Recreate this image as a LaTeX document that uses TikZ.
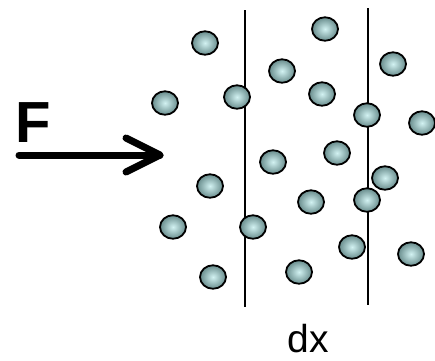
\documentclass[tikz,border=0pt]{standalone}
\usepackage{fontspec}
\setmainfont{Liberation Sans}
\usetikzlibrary{shapes.geometric}
\begin{document}
\begin{tikzpicture}[x=1pt,y=-1pt,
  molecule/.style={ellipse,draw=black,line width=1.8pt,minimum width=26pt,minimum height=23.5pt,
    inner sep=0pt,inner color={rgb,255:red,210;green,242;blue,242},outer color={rgb,255:red,104;green,140;blue,140}},
  boundary/.style={line width=1.6pt,black},
  force/.style={line width=7pt,black,line cap=round,line join=round}]
\useasboundingbox (0,0) rectangle (435,360);
% slab boundaries
\coordinate (l1) at (245,10);  \coordinate (l2) at (245,307);
\coordinate (r1) at (368,8);   \coordinate (r2) at (368,305);
\draw[boundary] (l1) -- (l2);
\draw[boundary] (r1) -- (r2);
% molecules
\foreach \n/\x/\y in {1/205/43, 2/325/29, 3/282/71, 4/393/64, 5/165/103, 6/237/97,
  7/322/94, 8/367/115, 9/422/123, 10/273/162, 11/337/153, 12/385/178, 13/210/186,
  14/311/202, 15/367/200, 16/173/227, 17/253/227, 18/352/247, 19/411/254,
  20/213/277, 21/299/272}
  \node[molecule] (m\n) at (\x,\y) {};
% applied force
\coordinate (f0) at (19,155);
\coordinate (f1) at (160,155);
\coordinate (h1) at (126,138);
\coordinate (h2) at (126,172);
\draw[force] (f0) -- (f1);
\draw[force] (h1) -- (f1) -- (h2);
\node[font=\fontsize{58}{58}\selectfont\bfseries,anchor=base west,inner sep=0pt] (F) at (15,142) {F};
\node[font=\fontsize{39}{39}\selectfont,anchor=base,inner sep=0pt] (dx) at (308.5,352) {dx};
\end{tikzpicture}
\end{document}
